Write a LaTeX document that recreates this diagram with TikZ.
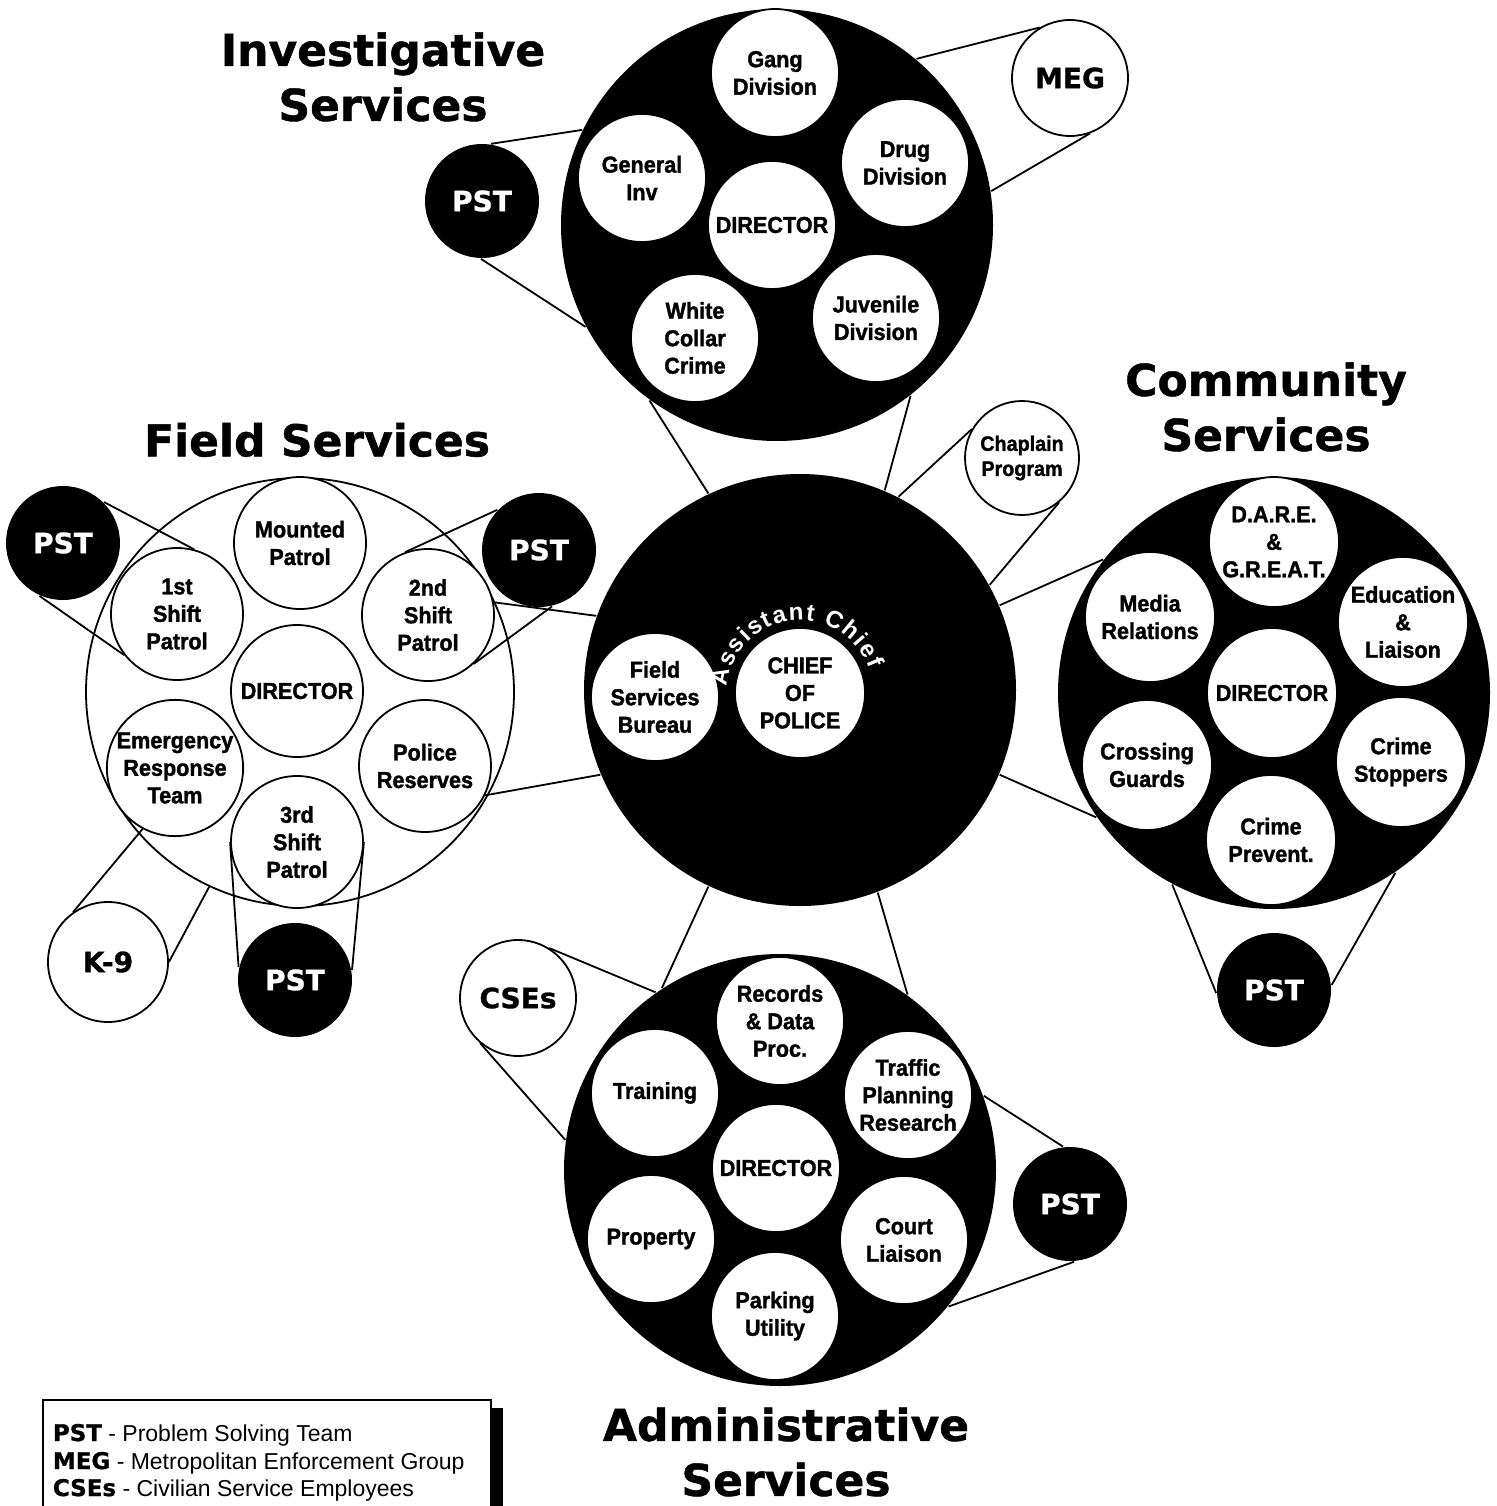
\documentclass[tikz,border=0pt]{standalone}
\usepackage{fontspec}
\setmainfont{Liberation Sans}
\newfontfamily\unitfamily{Liberation Sans}[BoldFeatures={FakeBold=1.5, FakeStretch=0.94}]
\newfontfamily\heavyfont{DejaVu Sans}[BoldFeatures={FakeBold=1}]
\usetikzlibrary{decorations.text}

\newcommand\unitfont{\unitfamily\bfseries\fontsize{23}{27.5}\selectfont}
\newcommand\abbrfont{\heavyfont\bfseries\fontsize{28}{32}\selectfont}
\newcommand\titlefont{\heavyfont\bfseries\fontsize{44}{55}\selectfont}
\newcommand\legfont{\fontsize{23}{27}\selectfont}
\newcommand\asstfont{\fontsize{24}{24}\selectfont\bfseries}

\begin{document}
\begin{tikzpicture}[x=1pt, y=-1pt, line width=1.8pt,
  service/.style={circle, fill=black, minimum size=432pt, inner sep=0pt},
  branch/.style={circle, draw, fill=white, minimum size=128pt, inner sep=0pt, align=center, font=\unitfont},
  team/.style={circle, fill=black, text=white, minimum size=114pt, inner sep=0pt, font=\abbrfont},
  partner/.style={circle, draw, fill=white, minimum size=116pt, inner sep=0pt, font=\abbrfont},
  heading/.style={align=center, font=\titlefont}]
\fill[white] (0,0) rectangle (1496,1506);
\useasboundingbox (0,0) rectangle (1496,1506);

% the five services
\node[service] (inv) at (777,225) {};
\node[service] (hq) at (800,690) {};
\node[service, draw, fill=white, minimum size=428pt] (fld) at (300,692) {};
\node[service] (com) at (1274,693) {};
\node[service] (adm) at (780,1170) {};

% Investigative Services
\node[branch] (invgang) at (775,73) {Gang\\Division};
\node[branch] (invgen) at (642,178) {General\\Inv};
\node[branch] (invdrug) at (905,163) {Drug\\Division};
\node[branch] (invdir) at (772,225) {DIRECTOR};
\node[branch] (invwcc) at (695,338) {White\\Collar\\Crime};
\node[branch] (invjuv) at (876,318) {Juvenile\\Division};
\node[team] (invpst) at (482,201) {PST};
\node[partner] (meg) at (1070,78) {MEG};

% Chief of Police
\node[branch] (fsb) at (655,697) {Field\\Services\\Bureau};
\node[branch, minimum size=130pt] (chief) at (800,693) {CHIEF\\OF\\POLICE};
\path[shift={(chief.center)}, decorate,
  decoration={text along path, text align=fit to path, text color=white, text={|\asstfont|Assistant Chief}}]
  (175:73pt) arc[start angle=175, end angle=19, radius=73pt];
\node[branch, minimum size=114pt, font=\unitfamily\bfseries\fontsize{21}{25}\selectfont] (chaplain) at (1022,458) {Chaplain\\Program};

% Field Services
\node[branch, minimum size=132pt] (fldmnt) at (300,543) {Mounted\\Patrol};
\node[branch, minimum size=132pt] (fld1) at (177,614) {1st\\Shift\\Patrol};
\node[branch, minimum size=132pt] (fld2) at (428,615) {2nd\\Shift\\Patrol};
\node[branch, minimum size=132pt] (flddir) at (297,691) {DIRECTOR};
\node[branch, minimum size=132pt] (flderg) at (175,768) {Emergency\\Response\\Team};
\node[branch, minimum size=132pt] (fldres) at (425,766) {Police\\Reserves};
\node[branch, minimum size=132pt] (fld3) at (297,842) {3rd\\Shift\\Patrol};
\node[team] (fldpst1) at (63,543) {PST};
\node[team] (fldpst2) at (539,550) {PST};
\node[team] (fldpst3) at (295,980) {PST};
\node[partner, minimum size=120pt] (k9) at (108,962) {K-9};

% Community Services
\node[branch, minimum size=130pt] (comdare) at (1274,542) {D.A.R.E.\\\&\\G.R.E.A.T.};
\node[branch, minimum size=130pt] (commedia) at (1150,617) {Media\\Relations};
\node[branch, minimum size=130pt] (comedu) at (1403,622) {Education\\\&\\Liaison};
\node[branch, minimum size=130pt] (comdir) at (1272,693) {DIRECTOR};
\node[branch, minimum size=130pt] (comcross) at (1147,765) {Crossing\\Guards};
\node[branch, minimum size=130pt] (comstop) at (1401,762) {Crime\\Stoppers};
\node[branch, minimum size=130pt] (comprev) at (1271,840) {Crime\\Prevent.};
\node[team] (compst) at (1274,990) {PST};

% Administrative Services
\node[branch] (admrec) at (780,1021) {Records\\\& Data\\Proc.};
\node[branch] (admtrn) at (655,1093) {Training};
\node[branch] (admtpr) at (908,1095) {Traffic\\Planning\\Research};
\node[branch] (admdir) at (776,1168) {DIRECTOR};
\node[branch] (admprop) at (651,1239) {Property};
\node[branch] (admcourt) at (904,1240) {Court\\Liaison};
\node[branch] (admpark) at (775,1316) {Parking\\Utility};
\node[partner] (cses) at (518,998) {CSEs};
\node[team] (admpst) at (1070,1204) {PST};

% links
\draw (invpst.81) -- (inv.154);
\draw (invpst.269) -- (inv.208);
\draw (meg.121) -- (inv.50);
\draw (meg.290) -- (inv.9);
\draw (inv.234) -- (hq.115);
\draw (inv.308) -- (hq.67);
\draw (chaplain.150) -- (hq.63);
\draw (chaplain.310) -- (hq.29);
\draw (hq.23) -- (com.142);
\draw (hq.337) -- (com.215);
\draw (com.242) -- (compst.183);
\draw (com.304) -- (compst.5);
\draw (hq.245) -- (adm.123);
\draw (hq.291) -- (adm.54);
\draw (cses.58) -- (adm.125);
\draw (cses.230) -- (adm.172);
\draw (adm.20) -- (admpst.97);
\draw (adm.321) -- (admpst.274);
\draw (fldpst1.45) -- (fld1.75);
\draw (fldpst1.246) -- (fld1.218);
\draw (fldpst2.136) -- (fld2.110);
\draw (fldpst2.283) -- (fld2.313);
\draw (fld2.11) -- (hq.160);
\draw (fldres.334) -- (hq.203);
\draw (k9.125) -- (flderg.242);
\draw (k9.0) -- (fld.245);
\draw (fld3.180) -- (fldpst3.167);
\draw (fld3.0) -- (fldpst3.10);

% titles
\node[heading] (titinv) at (383,77) {Investigative\\Services};
\node[heading] (titfld) at (317,440) {Field Services};
\node[heading] (titcom) at (1266,407) {Community\\Services};
\node[heading] (titadm) at (786,1452) {Administrative\\Services};

% legend
\draw[line width=1.5pt] (43,1400) rectangle (491,1520);
\fill (491,1408) rectangle (503,1520);
\node[anchor=base west, font=\legfont, inner sep=0pt] (legpst) at (52,1441) {{\heavyfont\bfseries PST} - Problem Solving Team};
\node[anchor=base west, font=\legfont, inner sep=0pt] (legmeg) at (52,1469) {{\heavyfont\bfseries MEG} - Metropolitan Enforcement Group};
\node[anchor=base west, font=\legfont, inner sep=0pt] (legcse) at (52,1496) {{\heavyfont\bfseries CSEs} - Civilian Service Employees};
\end{tikzpicture}
\end{document}
